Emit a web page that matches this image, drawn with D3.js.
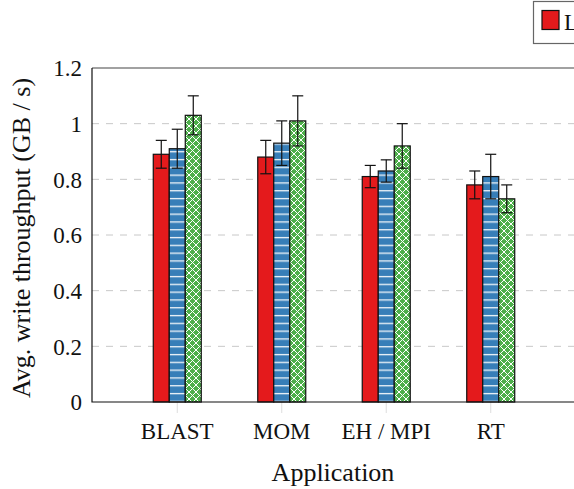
<!DOCTYPE html>
<html><head><meta charset="utf-8">
<script src="https://cdn.jsdelivr.net/npm/d3@7"></script>
<style>body{margin:0;background:#fff;}svg{display:block;}</style>
</head><body>
<svg id="c" width="574" height="489"></svg>
<script>
const categories = ["BLAST", "MOM", "EH / MPI", "RT"];
const seriesNames = ["Local", "NFS", "Lustre"];
const seriesA = [0.89, 0.88, 0.81, 0.78];
const seriesB = [0.91, 0.93, 0.83, 0.81];
const seriesC = [1.03, 1.01, 0.92, 0.73];
const errA = [0.05, 0.06, 0.04, 0.05];
const errB = [0.07, 0.08, 0.04, 0.08];
const errC = [0.07, 0.09, 0.08, 0.05];
const yTicks = [0, 0.2, 0.4, 0.6, 0.8, 1, 1.2];

const FONT = "Liberation Serif";
const series = [
  {name: seriesNames[0], vals: seriesA, err: errA, fill: "#e41a1c"},
  {name: seriesNames[1], vals: seriesB, err: errB, fill: "url(#hstripe)"},
  {name: seriesNames[2], vals: seriesC, err: errC, fill: "url(#xhatch)"}
];

const svg = d3.select("#c").attr("font-family", FONT);
const L = 92, R = 576, T = 68, B = 402;
const x = d3.scalePoint().domain(categories).range([L, R]).padding(0.816);
const y = d3.scaleLinear().domain([0, 1.2]).range([B, T]);
const bw = 16;

const defs = svg.append("defs");
const p1 = defs.append("pattern").attr("id", "hstripe").attr("patternUnits", "userSpaceOnUse")
  .attr("width", 8).attr("height", 7.8);
p1.append("rect").attr("width", 8).attr("height", 7.8).attr("fill", "#377eb8");
p1.append("rect").attr("y", 3).attr("width", 8).attr("height", 1.2).attr("fill", "#fff");
const P = 7;
const p2 = defs.append("pattern").attr("id", "xhatch").attr("patternUnits", "userSpaceOnUse")
  .attr("width", P).attr("height", P);
p2.append("rect").attr("width", P).attr("height", P).attr("fill", "#4daf4a");
p2.append("path").attr("d", `M0,0L${P},${P}M${P},0L0,${P}M-1,${P-1}L1,${P+1}M${P-1},-1L${P+1},1M${P-1},${P+1}L${P+1},${P-1}M-1,1L1,-1`)
  .attr("stroke", "#fff").attr("stroke-width", 1.0);

// grid
svg.append("g").selectAll("line").data(yTicks.filter(d => d > 0 && d < 1.2)).join("line")
  .attr("x1", L).attr("x2", R).attr("y1", d => y(d)).attr("y2", d => y(d))
  .attr("stroke", "#c8c8c8").attr("stroke-width", 1).attr("stroke-dasharray", "7,7");

// x ticks (faint)
svg.append("g").selectAll("line").data(categories).join("line")
  .attr("x1", d => x(d)).attr("x2", d => x(d)).attr("y1", B - 2).attr("y2", B + 11)
  .attr("stroke", "#dddddd").attr("stroke-width", 1);

// bars
series.forEach((s, si) => {
  const off = (si - 1) * bw;
  svg.append("g").selectAll("rect").data(categories).join("rect")
    .attr("x", d => x(d) + off - bw / 2)
    .attr("y", (d, i) => y(s.vals[i]))
    .attr("width", bw)
    .attr("height", (d, i) => B - y(s.vals[i]))
    .attr("fill", s.fill).attr("stroke", "#111").attr("stroke-width", 1.2);
});
// error bars
series.forEach((s, si) => {
  const off = (si - 1) * bw;
  const g = svg.append("g").attr("stroke", "#111").attr("stroke-width", 1.2);
  categories.forEach((c, i) => {
    const cx = x(c) + off;
    const y1 = y(s.vals[i] + s.err[i]), y2 = y(s.vals[i] - s.err[i]);
    g.append("line").attr("x1", cx).attr("x2", cx).attr("y1", y1).attr("y2", y2);
    g.append("line").attr("x1", cx - 5.5).attr("x2", cx + 5.5).attr("y1", y1).attr("y2", y1);
    g.append("line").attr("x1", cx - 5.5).attr("x2", cx + 5.5).attr("y1", y2).attr("y2", y2);
  });
});

// frame
svg.append("path").attr("d", `M${L},${T}H${R}`).attr("stroke", "#444").attr("stroke-width", 1.2).attr("fill", "none");
svg.append("path").attr("d", `M${L},${T}V${B}H${R}`).attr("stroke", "#111").attr("stroke-width", 1.2).attr("fill", "none");

// y tick labels
svg.append("g").selectAll("text").data(yTicks).join("text")
  .attr("x", 82).attr("y", d => y(d)).attr("dy", "0.36em").attr("text-anchor", "end")
  .attr("font-family", FONT).attr("font-size", 23).attr("fill", "#111").text(d => d3.format("~g")(d));

// x tick labels
svg.append("g").selectAll("text").data(categories).join("text")
  .attr("x", d => x(d)).attr("y", 439).attr("text-anchor", "middle")
  .attr("font-family", FONT).attr("font-size", 23).attr("fill", "#111").text(d => d);

// axis titles
svg.append("text").attr("x", (L + R) / 2 - 1).attr("y", 481).attr("text-anchor", "middle")
  .attr("font-family", FONT).attr("font-size", 26).attr("fill", "#111").text("Application");
svg.append("text").attr("transform", `translate(30,${(T + B) / 2 + 3}) rotate(-90)`)
  .attr("text-anchor", "middle").attr("font-family", FONT).attr("font-size", 26).attr("fill", "#111")
  .text("Avg. write throughput (GB / s)");

// legend (extends past the right edge, as in the reference)
const lg = svg.append("g");
lg.append("rect").attr("x", 533.5).attr("y", 1.5).attr("width", 300).attr("height", 42)
  .attr("fill", "#fff").attr("stroke", "#666").attr("stroke-width", 1.2);
series.forEach((s, si) => {
  const lx = 542 + si * 110;
  lg.append("rect").attr("x", lx).attr("y", 10.5).attr("width", 17).attr("height", 19)
    .attr("fill", s.fill).attr("stroke", "#111").attr("stroke-width", 1.2);
  lg.append("text").attr("x", lx + 22).attr("y", 30).attr("font-family", FONT)
    .attr("font-size", 23).attr("fill", "#111").text(s.name);
});
</script>
</body></html>
